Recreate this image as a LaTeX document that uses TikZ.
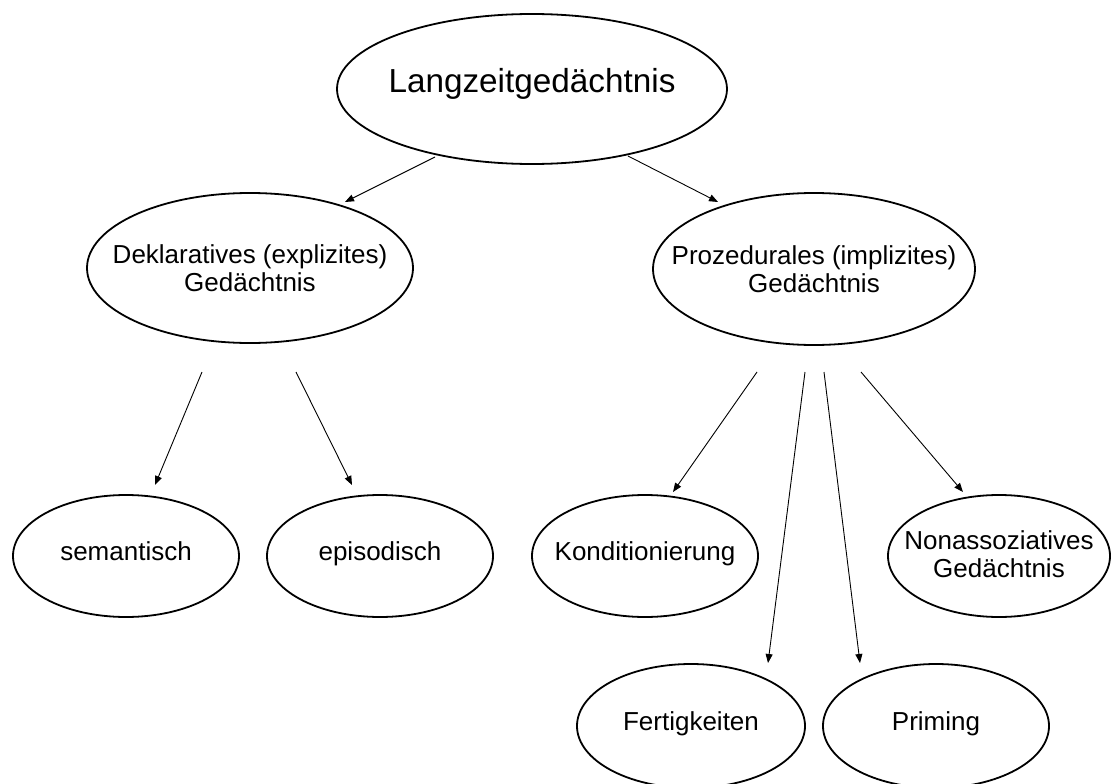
\documentclass[tikz,border=0pt]{standalone}
\usepackage{fontspec}
\setmainfont{Liberation Sans}
\usetikzlibrary{arrows.meta,shapes.geometric}
\begin{document}
\begin{tikzpicture}[x=1pt,y=-1pt,
  ell/.style={draw, ellipse, line width=1.8pt, inner sep=0pt},
  big/.style={inner sep=0pt, text height=0.78em, text depth=0em, font=\fontsize{33.3}{40}\selectfont},
  lbl/.style={inner sep=0pt, align=center, font=\fontsize{26}{28}\selectfont},
  one/.style={lbl, text height=0.8em, text depth=0em},
  arr/.style={-{Triangle[length=9pt,width=7pt]}, line width=0.9pt}]
\useasboundingbox (0,0) rectangle (1112,784);
% ellipses
\node[ell, minimum width=390pt, minimum height=150pt] (top) at (532,89) {};
\node[ell, minimum width=326pt, minimum height=150pt] (dek) at (250,268) {};
\node[ell, minimum width=322pt, minimum height=152pt] (pro) at (814,269) {};
\node[ell, minimum width=226pt, minimum height=122pt] (sem) at (126,556) {};
\node[ell, minimum width=226pt, minimum height=122pt] (epi) at (380,556) {};
\node[ell, minimum width=226pt, minimum height=122pt] (kon) at (645,556) {};
\node[ell, minimum width=222pt, minimum height=122pt] (non) at (999,556) {};
\node[ell, minimum width=228pt, minimum height=124pt] (fer) at (691,726) {};
\node[ell, minimum width=226pt, minimum height=124pt] (pri) at (936,726) {};
% texts
\node[big] (ttop) at (top) {Langzeitgedächtnis};
\node[lbl] (tdek) at (dek) {Deklaratives (explizites)\\Gedächtnis};
\node[lbl] (tpro) at (pro) {Prozedurales (implizites)\\Gedächtnis};
\node[one] (tsem) at (sem) {semantisch};
\node[one] (tepi) at (epi) {episodisch};
\node[one] (tkon) at (kon) {Konditionierung};
\node[lbl] (tnon) at ([yshift=2pt]non.center) {Nonassoziatives\\Gedächtnis};
\node[one] (tfer) at (fer) {Fertigkeiten};
\node[one] (tpri) at (pri) {Priming};
% connector end points
\coordinate (s1) at (435,157); \coordinate (e1) at (345,202);
\coordinate (s2) at (628,156); \coordinate (e2) at (718,202);
\coordinate (s3) at (202,372); \coordinate (e3) at (155,485);
\coordinate (s4) at (296,372); \coordinate (e4) at (352,485);
\coordinate (s5) at (757,372); \coordinate (e5) at (673,492);
\coordinate (s6) at (805,372); \coordinate (e6) at (768,663);
\coordinate (s7) at (824,372); \coordinate (e7) at (860,663);
\coordinate (s8) at (861,372); \coordinate (e8) at (963,492);
\draw[arr] (s1) -- (e1);
\draw[arr] (s2) -- (e2);
\draw[arr] (s3) -- (e3);
\draw[arr] (s4) -- (e4);
\draw[arr] (s5) -- (e5);
\draw[arr] (s6) -- (e6);
\draw[arr] (s7) -- (e7);
\draw[arr] (s8) -- (e8);
\end{tikzpicture}
\end{document}
